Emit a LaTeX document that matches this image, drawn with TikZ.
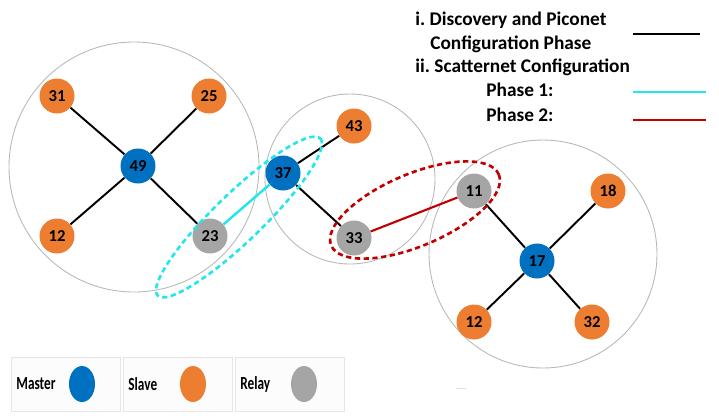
\documentclass[tikz,border=0pt]{standalone}
\usepackage{fontspec}
\setmainfont{Carlito}
\usetikzlibrary{positioning,shapes.geometric}
\frenchspacing

\definecolor{mblue}{HTML}{0070C0}
\definecolor{morange}{HTML}{ED7D31}
\definecolor{mgray}{HTML}{A5A5A5}
\definecolor{phcyan}{HTML}{22E6EE}
\definecolor{phred}{HTML}{C00000}

\tikzset{
	dev/.style={circle,minimum size=0.7cm,inner sep=0pt,font=\fontsize{9.5}{10}\selectfont\bfseries},
	master/.style={dev,fill=mblue},
	slave/.style={dev,fill=morange},
	relay/.style={dev,fill=mgray},
	link/.style={line width=1.1pt},
	zone/.style={draw=black!28,line width=0.5pt},
	group/.style={line width=1.5pt,dash pattern=on 3pt off 2pt},
	keybox/.style={draw=black!10,fill=black!1,minimum width=2.18cm,minimum height=1.08cm},
	keytext/.style={font=\fontsize{10.5}{12}\selectfont\bfseries,xscale=0.72,transform shape,inner sep=0pt},
	keydot/.style={ellipse,minimum width=0.52cm,minimum height=0.72cm,inner sep=0pt},
	phase/.style={font=\fontsize{11}{13}\selectfont\bfseries,anchor=base west,inner sep=0pt}
}

\begin{document}
\begin{tikzpicture}[x=0.02cm,y=-0.02cm]
		\useasboundingbox (0,0) rectangle (719,417);
		% piconets
		\draw[zone] (134,167) circle [radius=125];
		\draw[zone] (350,179) circle [radius=85];
		\draw[zone] (543,254) circle [radius=114];
		% devices
		\node[master] (49) at (138,166) {49};
		\node[slave] (31) at (57,96) {31};
		\node[slave] (25) at (209,96) {25};
		\node[slave] (12) at (57,236) {12};
		\node[relay] (23) at (210,236) {23};
		\node[master] (37) at (283,173) {37};
		\node[slave] (43) at (354,126) {43};
		\node[relay] (33) at (354,238) {33};
		\node[relay] (11) at (474,191) {11};
		\node[master] (17) at (537,261) {17};
		\node[slave] (18) at (608,191) {18};
		\node[slave] (12b) at (474,322) {12};
		\node[slave] (32) at (592,322) {32};
		\path[link]
			(49) edge (31)
			(49) edge (25)
			(49) edge (12)
			(49) edge (23)
			(37) edge (43)
			(37) edge (33)
			(17) edge (11)
			(17) edge (18)
			(17) edge (12b)
			(17) edge (32);
		\draw[link,phcyan,line width=1.4pt] (23) -- (37);
		\draw[link,phred,line width=1.2pt] (33) -- (11);
		% scatternet groups
		\draw[group,phcyan] (239,217) ellipse [x radius=113, y radius=24, rotate=44];
		\draw[group,phred] (415,210) ellipse [x radius=91, y radius=36, rotate=23];
		% phases
		\node[phase] (d1) at (415,25) {i. Discovery and Piconet};
		\node[phase] (d2) [below=0.48cm of d1.base west,anchor=base west,xshift=0.3cm] {Configuration Phase};
		\node[phase] (d3) [below=0.96cm of d1.base west,anchor=base west] {ii. Scatternet Configuration};
		\node[phase] (p1) at (486,96) {Phase 1:};
		\node[phase] (p2) [below=0.5cm of p1.base west,anchor=base west] {Phase 2:};
		\coordinate (k0a) at (633,34); \coordinate (k0b) at (700,34);
		\coordinate (k1a) at (633,92); \coordinate (k1b) at (706,92);
		\coordinate (k2a) at (633,120); \coordinate (k2b) at (706,120);
		\draw[link] (k0a) -- (k0b);
		\draw[phcyan,line width=1.4pt] (k1a) -- (k1b);
		\draw[phred,line width=1.2pt] (k2a) -- (k2b);
		% device types
		\node[keybox] (kb1) at (66,384) {};
		\node[keybox] (kb2) at (178,384) {};
		\node[keybox] (kb3) at (290,384) {};
		\node[keytext] (km) [right=0.1cm of kb1.west] {Master};
		\node[keytext] (ks) [right=0.1cm of kb2.west] {Slave};
		\node[keytext] (kr) [right=0.1cm of kb3.west] {Relay};
		\node[keydot,fill=mblue] (dm) at ([xshift=0.32cm]kb1.center) {};
		\node[keydot,fill=morange] (ds) at ([xshift=0.3cm]kb2.center) {};
		\node[keydot,fill=mgray] (dr) at ([xshift=0.28cm]kb3.center) {};
		\coordinate (ta) at (456,388); \coordinate (tb) at (466,388);
		\draw[black!12] (ta) -- (tb);
	\end{tikzpicture}
\end{document}
